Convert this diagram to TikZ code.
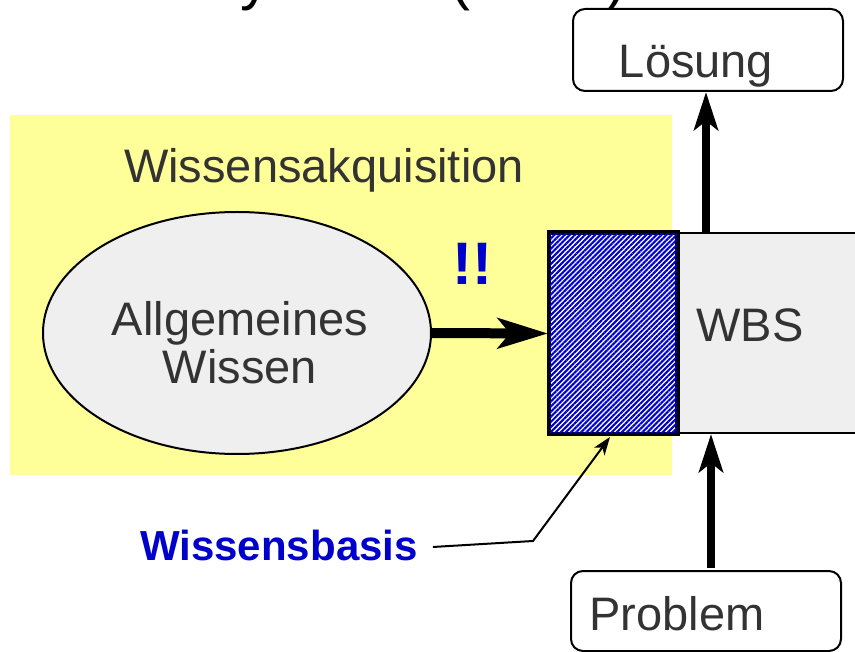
\documentclass[tikz,border=0pt]{standalone}
\usepackage{fontspec}
\setmainfont{Liberation Sans}
\usetikzlibrary{arrows.meta,shapes.geometric,patterns.meta}
\definecolor{bgyellow}{RGB}{255,255,153}
\definecolor{boxgray}{RGB}{239,239,239}
\definecolor{txtgray}{RGB}{51,51,51}
\definecolor{hblue}{RGB}{0,0,204}
\tikzset{
  big/.style={font=\fontsize{47}{47}\selectfont, text=txtgray},
  bluebold/.style={font=\fontsize{42}{42}\selectfont\bfseries, text=hblue},
  rbox/.style={draw, line width=2pt, rounded corners=12pt, fill=white, inner sep=0pt},
  fatarrow/.style={line width=10pt, -{Stealth[length=50pt,width=30pt,inset=12pt]}},
  uparrow/.style={line width=8.5pt, -{Stealth[length=38pt,width=24pt,inset=9pt]}},
  thinarrow/.style={line width=2pt, -{Stealth[length=18pt,width=13pt,inset=5pt]}},
}
\begin{document}
\begin{tikzpicture}[x=1pt,y=-1pt]
\useasboundingbox (0,0) rectangle (855,652);
\fill[white] (0,0) rectangle (855,652);
% cut-off title
\node[font=\fontsize{60}{60}\selectfont, anchor=base east, inner sep=0pt] (title) at (627,-1) {Wissensbasierte Systeme (WBS)};
% yellow area
\fill[bgyellow] (10,115) rectangle (672,475);
\node[big, anchor=base] (wa) at (324,183) {Wissensakquisition};
% ellipse
\node[ellipse, draw, line width=2pt, fill=boxgray, minimum width=388pt, minimum height=242pt, inner sep=0pt] (ell) at (237,333) {};
\node[big, anchor=base] (aw1) at (240,336) {Allgemeines};
\node[big, anchor=base] (aw2) at (240,384) {Wissen};
% WBS box
\node[draw, line width=2pt, fill=boxgray, minimum width=205pt, minimum height=200pt, anchor=north west, inner sep=0pt] (wbs) at (675,232) {};
\node[big, anchor=base] (wbst) at (750,342) {WBS};
% hatched box
\node[draw, line width=3pt, fill=white, minimum width=127pt, minimum height=200pt, anchor=north west, inner sep=0pt] (hatch) at (548,232) {};
\fill[pattern={Lines[angle=45,distance=3.6pt,line width=2.1pt]}, pattern color=hblue] (hatch.north west) rectangle (hatch.south east);
\draw[line width=3pt] (hatch.north west) rectangle (hatch.south east);
% !!
\node[font=\fontsize{60}{60}\selectfont\bfseries, text=hblue, anchor=base] (ex) at (472,285) {!!};
% Loesung and Problem
\node[rbox, minimum width=270pt, minimum height=82pt, anchor=north west] (loes) at (572,8) {};
\node[big, anchor=base] (loest) at (696,78) {Lösung};
\node[rbox, minimum width=270pt, minimum height=80pt, anchor=north west] (prob) at (570,570) {};
\node[big, anchor=base] (probt) at (677,630) {Problem};
% Wissensbasis label
\node[bluebold, anchor=base, inner sep=0pt] (wb) at (279,560) {Wissensbasis};
% connectors
\draw[fatarrow] (ell.east) -- (hatch.west);
\coordinate (u1) at (706,232);
\draw[uparrow] (u1) -- (u1 |- loes.south);
\coordinate (u2) at (711,568);
\draw[uparrow] (u2) -- (711,434);
\coordinate (bend) at (533,541);
\coordinate (tip) at (610,437);
\draw[thinarrow] ([xshift=15pt,yshift=-2pt]wb.east) -- (bend) -- (tip);
\end{tikzpicture}
\end{document}
